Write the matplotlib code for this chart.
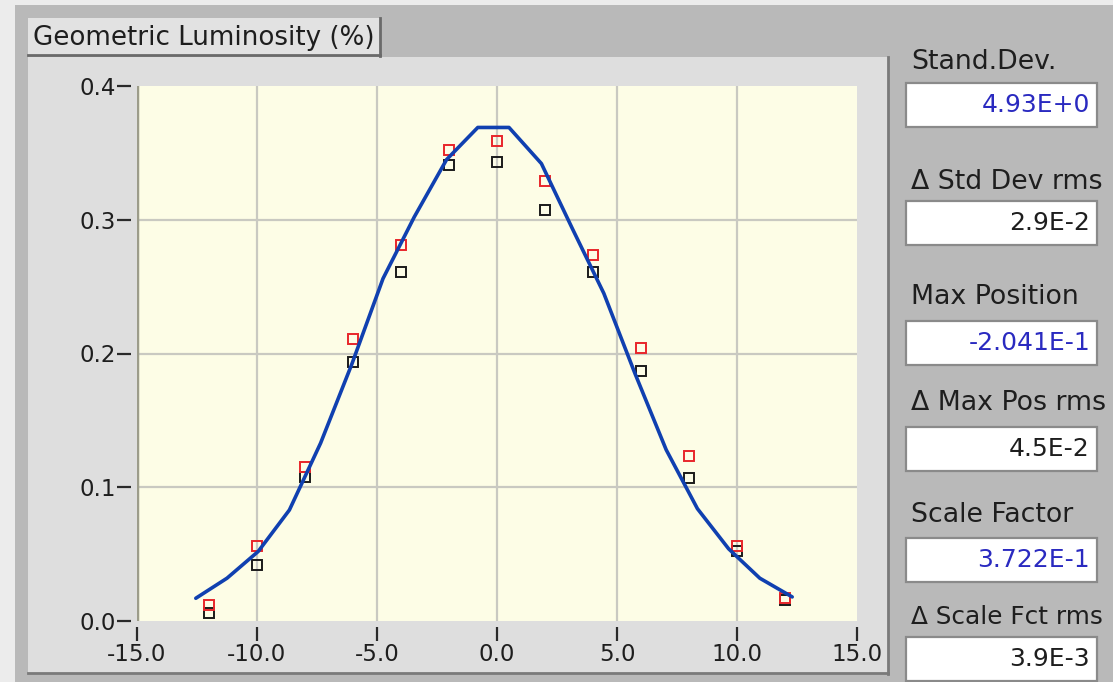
import matplotlib.pyplot as plt
from matplotlib.patches import Rectangle

pos = [-12, -10, -8, -6, -4, -2, 0, 2, 4, 6, 8, 10, 12]
lum_red = [0.012, 0.056, 0.115, 0.211, 0.281, 0.352, 0.359, 0.329, 0.274, 0.204, 0.123, 0.056, 0.017]
lum_black = [0.006, 0.042, 0.108, 0.194, 0.261, 0.341, 0.343, 0.307, 0.261, 0.187, 0.107, 0.052, 0.016]

# fitted curve
fit_x = [-12.55, -11.25, -9.95, -8.65, -7.35, -6.05, -4.75, -3.45, -2.1, -0.8,
         0.5, 1.85, 3.15, 4.45, 5.75, 7.05, 8.35, 9.65, 10.95, 12.3]
fit_y = [0.017, 0.032, 0.052, 0.083, 0.133, 0.192, 0.256, 0.302, 0.345, 0.369,
         0.369, 0.342, 0.293, 0.245, 0.185, 0.128, 0.084, 0.054, 0.032, 0.018]

xticks = [-15, -10, -5, 0, 5, 10, 15]
yticks = [0.0, 0.1, 0.2, 0.3, 0.4]

labels = ['Stand.Dev.', 'Δ Std Dev rms', 'Max Position', 'Δ Max Pos rms', 'Scale Factor', 'Δ Scale Fct rms']
values = ['4.93E+0', '2.9E-2', '-2.041E-1', '4.5E-2', '3.722E-1', '3.9E-3']
value_blue = [True, False, True, False, True, False]

W, H = 1113, 682
FONT = 'DejaVu Sans'


def fx(x):
    return x / W


def fy(y):
    return 1 - y / H


def box(fig, x0, y0, x1, y1, face, edge, lw=1.2, z=0):
    r = Rectangle((fx(x0), fy(y1)), fx(x1 - x0), (y1 - y0) / H, transform=fig.transFigure,
                  facecolor=face, edgecolor=edge, linewidth=lw, zorder=z)
    fig.patches.append(r)


def line(fig, x0, y0, x1, y1, color, lw):
    fig.lines.append(plt.Line2D([fx(x0), fx(x1)], [fy(y0), fy(y1)], transform=fig.transFigure,
                                color=color, lw=lw, zorder=0.5))


fig = plt.figure(figsize=(W / 100, H / 100), dpi=100)
fig.patch.set_facecolor('#b9b9b9')

# white margin top / left
box(fig, 0, 0, W, 5, '#ececec', 'none', 0)
box(fig, 0, 0, 15, H, '#ececec', 'none', 0)

# graph panel
box(fig, 28, 57, 888, 673, '#dedede', 'none', 0)
line(fig, 888, 57, 888, 674, '#7a7a7a', 2)
line(fig, 28, 673, 888, 673, '#7a7a7a', 2)

# title tab
box(fig, 28, 18, 380, 55, '#e2e2e2', 'none', 0)
line(fig, 380, 18, 380, 56, '#6a6a6a', 2)
line(fig, 28, 55, 380, 55, '#6a6a6a', 2)
fig.text(fx(33), fy(38), 'Geometric Luminosity (%)', fontsize=18.8, family=FONT,
         color='#1e1e1e', va='center', ha='left')

ax = fig.add_axes([fx(137), fy(621), (857 - 137) / W, (621 - 86) / H])
ax.set_zorder(10)
ax.set_facecolor('#fdfde6')
ax.set_xlim(-15, 15)
ax.set_ylim(0, 0.4)

for v in xticks[1:-1]:
    ax.axvline(v, color='#c9c9c1', lw=1.6, zorder=1)
for v in yticks[1:-1]:
    ax.axhline(v, color='#c9c9c1', lw=1.6, zorder=1)
ax.axvline(-15, color='#9c9c8a', lw=2.5, zorder=2)

ax.plot(pos, lum_black, 's', mfc='none', mec='#1a1a1a', ms=7.5, mew=1.4, zorder=3)
ax.plot(pos, lum_red, 's', mfc='none', mec='#e8262a', ms=7.5, mew=1.4, zorder=4)
ax.plot(fit_x, fit_y, color='#1040b0', lw=2.6, zorder=5, solid_capstyle='round')

for s in ax.spines.values():
    s.set_visible(False)
ax.spines['bottom'].set_position(('outward', 4))
ax.spines['left'].set_position(('outward', 4))

ax.set_xticks(xticks)
ax.set_xticklabels(['%.1f' % v for v in xticks])
ax.set_yticks(yticks)
ax.set_yticklabels(['%.1f' % v for v in yticks])
ax.tick_params(axis='both', direction='out', length=10, width=1.6, color='#2a2a2a',
               labelsize=16.5, labelcolor='#1e1e1e', pad=1)
ax.tick_params(axis='x', pad=2)
for t in ax.get_xticklabels() + ax.get_yticklabels():
    t.set_family(FONT)

# right side indicators
label_y = [62, 182, 297, 403, 515, 617]
box_y = [83, 201, 321, 427, 538, 637]
for lab, val, blue, ly, by in zip(labels, values, value_blue, label_y, box_y):
    # the last label is long, shrink it a little so it fits
    size = 17.8 if len(lab) > 14 else 19.3
    fig.text(fx(911), fy(ly), lab, fontsize=size, family=FONT, color='#1e1e1e', va='center', ha='left')
    box(fig, 906, by, 1097, by + 44, 'white', '#8a8a8a', 1.6, 1)
    fig.text(fx(1090), fy(by + 22), val, fontsize=18, family=FONT,
             color='#2a2ac0' if blue else '#1e1e1e', va='center', ha='right', zorder=2)

fig.savefig('out.png', dpi=100, facecolor=fig.get_facecolor())
